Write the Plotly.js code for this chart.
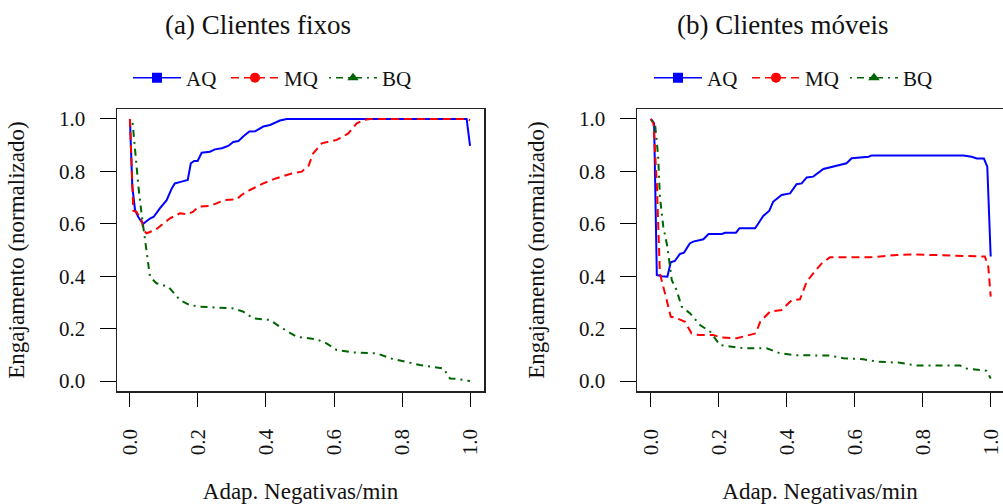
<!DOCTYPE html>
<html>
<head>
<meta charset="utf-8">
<script src="https://cdn.plot.ly/plotly-3.0.1.min.js"></script>
<style>html,body{margin:0;padding:0;background:#fff}#chart{width:1003px;height:504px}</style>
</head>
<body>
<div id="chart"></div>
<script>
// ---- (a) Clientes fixos ----
const fixosAQ_x = [0, 0.007, 0.015, 0.025, 0.034, 0.039, 0.059, 0.07, 0.088, 0.108, 0.123, 0.132, 0.152, 0.170, 0.179, 0.189, 0.199, 0.211, 0.235, 0.25, 0.27, 0.289, 0.304, 0.319, 0.333, 0.351, 0.368, 0.392, 0.412, 0.426, 0.441, 0.461, 0.99, 1.0];
const fixosAQ_y = [1.0, 0.742, 0.653, 0.625, 0.608, 0.600, 0.620, 0.627, 0.659, 0.690, 0.735, 0.754, 0.761, 0.767, 0.831, 0.840, 0.840, 0.871, 0.875, 0.884, 0.888, 0.897, 0.912, 0.916, 0.933, 0.952, 0.953, 0.971, 0.977, 0.984, 0.994, 1.0, 1.0, 0.897];
const fixosMQ_x = [0, 0.005, 0.01, 0.02, 0.035, 0.04, 0.049, 0.074, 0.093, 0.118, 0.147, 0.169, 0.186, 0.201, 0.235, 0.255, 0.279, 0.314, 0.328, 0.353, 0.392, 0.431, 0.471, 0.505, 0.525, 0.539, 0.564, 0.608, 0.642, 0.667, 0.686, 0.706, 0.99, 1.0];
const fixosMQ_y = [1.0, 0.80, 0.65, 0.645, 0.61, 0.575, 0.564, 0.576, 0.595, 0.621, 0.640, 0.636, 0.646, 0.665, 0.668, 0.678, 0.691, 0.693, 0.710, 0.729, 0.754, 0.774, 0.790, 0.799, 0.821, 0.869, 0.907, 0.920, 0.945, 0.983, 0.996, 1.0, 1.0, 0.995];
const fixosBQ_x = [0.008, 0.015, 0.025, 0.034, 0.042, 0.049, 0.059, 0.078, 0.113, 0.147, 0.176, 0.206, 0.284, 0.304, 0.333, 0.363, 0.412, 0.441, 0.49, 0.549, 0.578, 0.608, 0.657, 0.725, 0.765, 0.814, 0.853, 0.922, 0.941, 0.96, 1.0];
const fixosBQ_y = [0.985, 0.88, 0.742, 0.64, 0.564, 0.487, 0.398, 0.373, 0.36, 0.309, 0.29, 0.284, 0.28, 0.277, 0.265, 0.239, 0.233, 0.207, 0.169, 0.159, 0.144, 0.118, 0.109, 0.106, 0.087, 0.074, 0.061, 0.048, 0.01, 0.008, 0.0];

// ---- (b) Clientes móveis ----
const moveisAQ_x = [0, 0.01, 0.018, 0.032, 0.049, 0.059, 0.071, 0.086, 0.098, 0.115, 0.125, 0.155, 0.170, 0.209, 0.219, 0.251, 0.261, 0.307, 0.317, 0.331, 0.349, 0.36, 0.385, 0.41, 0.429, 0.444, 0.459, 0.478, 0.508, 0.547, 0.576, 0.591, 0.616, 0.641, 0.65, 0.92, 0.944, 0.959, 0.98, 0.99, 1.0];
const moveisAQ_y = [1.0, 0.983, 0.405, 0.40, 0.398, 0.453, 0.458, 0.485, 0.49, 0.525, 0.532, 0.541, 0.561, 0.561, 0.566, 0.566, 0.583, 0.583, 0.602, 0.63, 0.65, 0.684, 0.71, 0.716, 0.751, 0.754, 0.777, 0.78, 0.809, 0.822, 0.831, 0.85, 0.854, 0.856, 0.861, 0.861, 0.856, 0.849, 0.849, 0.818, 0.475];
const moveisMQ_x = [0, 0.008, 0.018, 0.027, 0.047, 0.059, 0.071, 0.101, 0.12, 0.14, 0.184, 0.204, 0.253, 0.282, 0.309, 0.322, 0.351, 0.385, 0.415, 0.439, 0.459, 0.478, 0.503, 0.527, 0.645, 0.724, 0.763, 0.831, 0.9, 0.983, 0.993, 1.0];
const moveisMQ_y = [1.0, 0.983, 0.754, 0.411, 0.309, 0.245, 0.243, 0.226, 0.182, 0.176, 0.176, 0.167, 0.163, 0.172, 0.182, 0.226, 0.265, 0.271, 0.309, 0.312, 0.379, 0.411, 0.449, 0.472, 0.472, 0.481, 0.483, 0.481, 0.477, 0.475, 0.436, 0.322];
const moveisBQ_x = [0.003, 0.013, 0.022, 0.027, 0.037, 0.049, 0.062, 0.076, 0.091, 0.116, 0.145, 0.175, 0.204, 0.233, 0.273, 0.341, 0.38, 0.42, 0.527, 0.567, 0.625, 0.665, 0.733, 0.782, 0.91, 0.929, 0.988, 1.0];
const moveisBQ_y = [0.996, 0.977, 0.856, 0.704, 0.589, 0.513, 0.385, 0.347, 0.284, 0.258, 0.214, 0.188, 0.137, 0.131, 0.125, 0.125, 0.106, 0.099, 0.097, 0.087, 0.083, 0.074, 0.07, 0.059, 0.059, 0.048, 0.039, 0.01];

const seriesNames = ['AQ', 'MQ', 'BQ'];
const panelTitles = ['(a) Clientes fixos', '(b) Clientes móveis'];
const xTitle = 'Adap. Negativas/min';
const yTitle = 'Engajamento (normalizado)';
const tickVals = [0, 0.2, 0.4, 0.6, 0.8, 1.0];
const tickText = ['0.0', '0.2', '0.4', '0.6', '0.8', '1.0'];

const FONT = '"Liberation Serif", "DejaVu Serif", "Times New Roman", Times, serif';
const styles = [
  {color: '#0000FF', dash: 'solid', symbol: 'square'},
  {color: '#FF0000', dash: '8px,5px', symbol: 'circle'},
  {color: '#006400', dash: '2px,5px,7px,5px', symbol: 'triangle-up'}
];

const panels = [
  {xs: [fixosAQ_x, fixosMQ_x, fixosBQ_x], ys: [fixosAQ_y, fixosMQ_y, fixosBQ_y], xa: 'x', ya: 'y', leg: 'legend'},
  {xs: [moveisAQ_x, moveisMQ_x, moveisBQ_x], ys: [moveisAQ_y, moveisMQ_y, moveisBQ_y], xa: 'x2', ya: 'y2', leg: 'legend2'}
];

const traces = [];
panels.forEach(p => {
  for (let i = 0; i < 3; i++) {
    traces.push({
      x: p.xs[i], y: p.ys[i], xaxis: p.xa, yaxis: p.ya, type: 'scatter', mode: 'lines',
      line: {color: styles[i].color, dash: styles[i].dash, width: 2},
      showlegend: false, hoverinfo: 'skip'
    });
  }
  for (let i = 0; i < 3; i++) {
    traces.push({
      x: [null], y: [null], xaxis: p.xa, yaxis: p.ya, type: 'scatter', mode: 'lines+markers',
      name: seriesNames[i], legend: p.leg,
      line: {color: styles[i].color, dash: styles[i].dash, width: 1.5},
      marker: {color: styles[i].color, symbol: styles[i].symbol, size: 10}
    });
  }
});

const W = 1003, H = 504;
const px = v => v / W, py = v => (H - v) / H;

function xAxis(domain, range) {
  return {
    domain: domain, range: range, tickvals: tickVals, ticktext: tickText,
    tickangle: -90, ticks: 'outside', ticklen: 14, tickwidth: 1, tickcolor: '#000',
    ticklabelstandoff: 14,
    showline: true, linecolor: '#222', linewidth: 1.5, mirror: true,
    showgrid: false, zeroline: false, automargin: false,
    tickfont: {family: FONT, size: 21, color: '#111'},
    title: {text: xTitle, font: {family: FONT, size: 23, color: '#111'}, standoff: 30}
  };
}
function yAxis(anchor, mirror) {
  return {
    anchor: anchor, domain: [py(391), py(109)], range: [-0.038, 1.038],
    tickvals: tickVals, ticktext: tickText,
    ticks: 'outside', ticklen: 16, tickwidth: 1, tickcolor: '#000',
    ticklabelstandoff: 10,
    showline: true, linecolor: '#222', linewidth: 1.5, mirror: mirror,
    showgrid: false, zeroline: false, automargin: false,
    tickfont: {family: FONT, size: 21, color: '#111'},
    title: {text: yTitle, font: {family: FONT, size: 23, color: '#111'}, standoff: 28}
  };
}

const legendBase = {
  orientation: 'h', yanchor: 'middle', xanchor: 'left', y: py(78),
  font: {family: FONT, size: 21, color: '#111'},
  entrywidth: 35, entrywidthmode: 'pixels', itemwidth: 48,
  bgcolor: 'rgba(0,0,0,0)', borderwidth: 0, tracegroupgap: 0
};

const layout = {
  width: W, height: H, margin: {l: 0, r: 0, t: 0, b: 0, autoexpand: false},
  paper_bgcolor: '#fff', plot_bgcolor: '#fff',
  font: {family: FONT},
  xaxis: Object.assign(xAxis([px(117), px(484)], [-0.038, 1.041]), {anchor: 'y'}),
  yaxis: yAxis('x', true),
  xaxis2: Object.assign(xAxis([px(637), 1], [-0.0403, 1.0362]), {anchor: 'y2'}),
  yaxis2: yAxis('x2', true),
  legend: Object.assign({}, legendBase, {x: px(128)}),
  legend2: Object.assign({}, legendBase, {x: px(649)}),
  annotations: [
    {text: panelTitles[0], xref: 'paper', yref: 'paper', x: px(258), y: py(25), xanchor: 'center', yanchor: 'middle', showarrow: false, font: {family: FONT, size: 27, color: '#111'}},
    {text: panelTitles[1], xref: 'paper', yref: 'paper', x: px(782), y: py(25), xanchor: 'center', yanchor: 'middle', showarrow: false, font: {family: FONT, size: 27, color: '#111'}}
  ],
  showlegend: true
};

Plotly.newPlot('chart', traces, layout, {staticPlot: true, displayModeBar: false});
</script>
</body>
</html>
